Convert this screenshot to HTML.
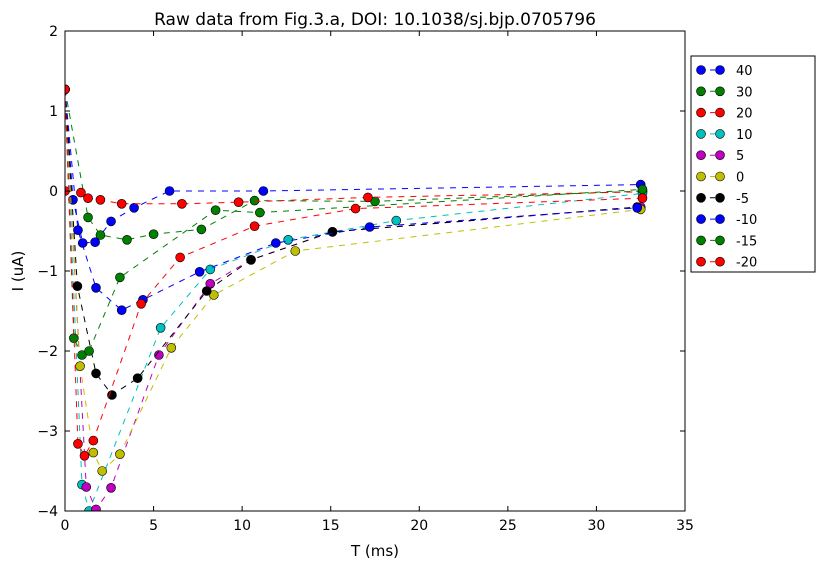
<!DOCTYPE html>
<html><head><meta charset="utf-8"><style>
body{margin:0;background:#fff;}
svg text{font-family:"DejaVu Sans","Liberation Sans",sans-serif;}
</style></head><body>
<svg id="chart" width="825" height="570" xmlns="http://www.w3.org/2000/svg">
<rect width="825" height="570" fill="#fff"/>
<text x="375" y="25" font-size="17" text-anchor="middle">Raw data from Fig.3.a, DOI: 10.1038/sj.bjp.0705796</text>
<g id="plot"></g>
<rect x="65" y="31" width="620" height="480" fill="none" stroke="#000" stroke-width="1"/>
<g id="axes"></g>
<text x="375" y="556" font-size="15" text-anchor="middle">T (ms)</text>
<text x="23" y="271" font-size="15" text-anchor="middle" transform="rotate(-90 23 271)">I (uA)</text>
<g id="legend"></g>
</svg>
<script>
const seriesNames=["40","30","20","10","5","0","-5","-10","-15","-20"];
const seriesColors=["#0000ff","#008000","#ff0000","#00bfbf","#bf00bf","#bfbf00","#000000","#0000ff","#008000","#ff0000"];
const s40=[[0,1.27],[0.45,-0.11],[1.0,-0.65],[1.7,-0.64],[2.6,-0.38],[3.9,-0.21],[5.9,0.0],[11.2,0.0],[32.5,0.08]];
const s30=[[0,1.27],[1.3,-0.33],[2.0,-0.55],[3.5,-0.61],[5.0,-0.54],[7.7,-0.48],[10.7,-0.12],[17.5,-0.13],[32.6,0.0]];
const s20=[[0,0.0],[0.9,-0.02],[1.3,-0.09],[2.0,-0.11],[3.2,-0.16],[6.6,-0.16],[9.8,-0.14],[17.1,-0.08],[32.6,-0.01]];
const s10=[[0,1.27],[0.96,-3.67],[1.36,-4.0],[5.4,-1.71],[8.2,-0.98],[12.6,-0.61],[18.7,-0.37],[32.6,-0.03]];
const s5=[[0,1.27],[1.2,-3.7],[1.75,-3.98],[2.6,-3.71],[5.3,-2.05],[8.2,-1.16],[10.5,-0.86],[15.1,-0.51],[32.5,-0.2]];
const s0=[[0,1.27],[0.85,-2.19],[1.6,-3.27],[2.1,-3.5],[3.1,-3.29],[6.0,-1.96],[8.4,-1.3],[13.0,-0.75],[32.5,-0.23]];
const sm5=[[0,1.27],[0.7,-1.19],[1.75,-2.28],[2.65,-2.55],[4.1,-2.34],[8.0,-1.25],[10.5,-0.86],[15.1,-0.51],[32.3,-0.2]];
const sm10=[[0,1.27],[0.73,-0.49],[1.75,-1.21],[3.2,-1.49],[4.4,-1.36],[7.6,-1.01],[11.9,-0.65],[17.2,-0.45],[32.3,-0.21]];
const sm15=[[0,1.27],[0.5,-1.84],[0.96,-2.05],[1.36,-2.0],[3.1,-1.08],[8.5,-0.24],[11.0,-0.27],[32.6,0.02]];
const sm20=[[0,1.27],[0.73,-3.16],[1.1,-3.31],[1.6,-3.12],[4.3,-1.41],[6.5,-0.83],[10.7,-0.44],[16.4,-0.22],[32.6,-0.09]];
const allSeries=[s40,s30,s20,s10,s5,s0,sm5,sm10,sm15,sm20];
const xTicks=[0,5,10,15,20,25,30,35];
const yTicks=[-4,-3,-2,-1,0,1,2];
const NS="http://www.w3.org/2000/svg";
const X0=65,X1=685,Y0=511,Y1=31;
function xs(v){return X0+(v-0)/35*(X1-X0);}
function ys(v){return Y0-(v+4)/6*(Y0-Y1);}
function mk(t,a){const e=document.createElementNS(NS,t);for(const k in a)e.setAttribute(k,a[k]);return e;}
const plot=document.getElementById('plot');
const clip=mk('clipPath',{id:'pc'});clip.appendChild(mk('rect',{x:X0,y:Y1,width:X1-X0,height:Y0-Y1}));plot.appendChild(clip);
allSeries.forEach((s,i)=>{
  const g=mk('g',{'clip-path':'url(#pc)'});
  
  
  const pl=mk('polyline',{points:s.map(p=>xs(p[0])+','+ys(p[1])).join(' '),fill:'none',stroke:seriesColors[i],'stroke-width':1,'stroke-dasharray':'6,6'});
  
  
  g.appendChild(pl);
  s.forEach(p=>{const c=mk('circle',{cx:xs(p[0]),cy:ys(p[1]),r:4.5,fill:seriesColors[i],stroke:'#000','stroke-width':0.6});
    
    
    g.appendChild(c);});
  plot.appendChild(g);
});
const axes=document.getElementById('axes');
xTicks.forEach(t=>{const x=xs(t);
  axes.appendChild(mk('line',{x1:x,y1:Y0,x2:x,y2:Y0-5,stroke:'#000'}));
  axes.appendChild(mk('line',{x1:x,y1:Y1,x2:x,y2:Y1+5,stroke:'#000'}));
  const tx=mk('text',{x:x,y:Y0+19,'font-size':14,'text-anchor':'middle'});tx.textContent=t;
  
  
  axes.appendChild(tx);});
yTicks.forEach(t=>{const y=ys(t);
  axes.appendChild(mk('line',{x1:X0,y1:y,x2:X0+5,y2:y,stroke:'#000'}));
  axes.appendChild(mk('line',{x1:X1,y1:y,x2:X1-5,y2:y,stroke:'#000'}));
  const tx=mk('text',{x:X0-7,y:y+5,'font-size':14,'text-anchor':'end'});tx.textContent=(t<0?'\u2212'+(-t):t);
  
  
  axes.appendChild(tx);});
const leg=document.getElementById('legend');
const box=mk('rect',{x:691,y:56,width:124,height:216,fill:'#fff',stroke:'#000'});


leg.appendChild(box);
seriesNames.forEach((n,i)=>{const y=70+i*21.3;
  const g=mk('g',{});
  
  
  g.appendChild(mk('line',{x1:701,y1:y,x2:719,y2:y,stroke:seriesColors[i],'stroke-dasharray':'5,4'}));
  g.appendChild(mk('circle',{cx:701,cy:y,r:4.5,fill:seriesColors[i],stroke:'#000','stroke-width':0.6}));
  g.appendChild(mk('circle',{cx:720,cy:y,r:4.5,fill:seriesColors[i],stroke:'#000','stroke-width':0.6}));
  const t=mk('text',{x:736,y:y+5,'font-size':13});t.textContent=n;g.appendChild(t);
  leg.appendChild(g);});
</script>
</body></html>
